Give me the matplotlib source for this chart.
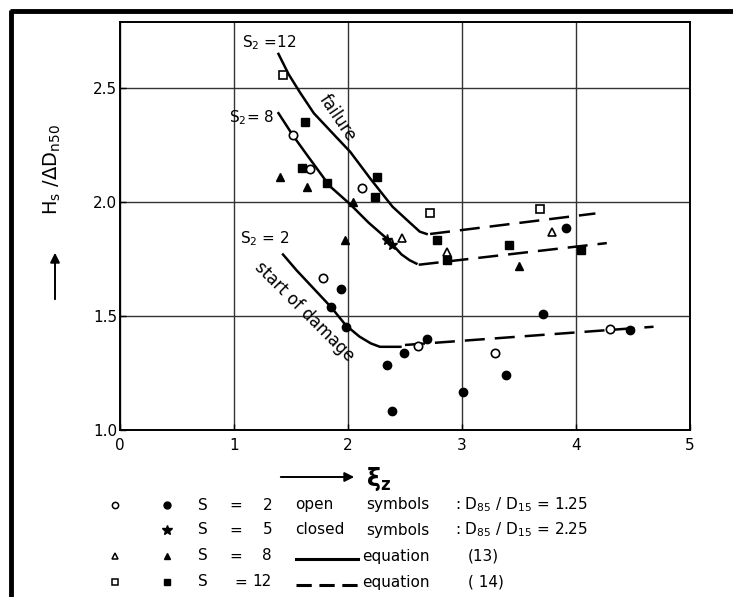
import matplotlib
matplotlib.use("Agg")
import matplotlib.pyplot as plt

plt.rcParams['font.family'] = ['DejaVu Sans']

# ---------------- data ----------------
open_circle_x = [1.78, 1.52, 1.67, 2.12, 2.61, 3.29, 4.30]
open_circle_y = [1.667, 2.294, 2.145, 2.061, 1.368, 1.338, 1.443]
closed_circle_x = [1.94, 1.85, 1.98, 2.49, 2.34, 2.39, 2.69, 3.01, 3.39, 3.71, 3.91, 4.47]
closed_circle_y = [1.618, 1.539, 1.452, 1.338, 1.285, 1.083, 1.399, 1.167, 1.241, 1.509, 1.886, 1.439]
star_x = [2.34, 2.39]
star_y = [1.833, 1.811]
open_tri_x = [2.47, 2.87, 3.79]
open_tri_y = [1.842, 1.781, 1.868]
closed_tri_x = [1.40, 1.64, 2.04, 1.97, 3.50]
closed_tri_y = [2.110, 2.066, 2.000, 1.833, 1.719]
open_sq_x = [1.43, 2.72, 3.68]
open_sq_y = [2.557, 1.952, 1.969]
closed_sq_x = [1.62, 1.60, 1.82, 2.25, 2.24, 2.78, 2.87, 3.41, 4.04]
closed_sq_y = [2.351, 2.149, 2.083, 2.110, 2.022, 1.833, 1.746, 1.811, 1.789]

# equation (13) curves (solid)
eq13_s12_x = [1.39, 1.48, 1.58, 1.70, 1.85, 2.02, 2.20, 2.39, 2.52, 2.63, 2.69]
eq13_s12_y = [2.65, 2.56, 2.48, 2.39, 2.31, 2.22, 2.10, 1.98, 1.92, 1.87, 1.86]
eq13_s8_x = [1.39, 1.52, 1.65, 1.84, 2.02, 2.18, 2.34, 2.47, 2.54, 2.60]
eq13_s8_y = [2.39, 2.29, 2.20, 2.07, 1.99, 1.91, 1.84, 1.77, 1.745, 1.73]
eq13_s2_x = [1.43, 1.55, 1.70, 1.85, 1.98, 2.10, 2.20, 2.28, 2.46]
eq13_s2_y = [1.77, 1.70, 1.62, 1.54, 1.46, 1.41, 1.38, 1.365, 1.365]
# equation (14) curves (dashed)
eq14_s12_x = [2.72, 4.17]
eq14_s12_y = [1.86, 1.95]
eq14_s8_x = [2.62, 4.27]
eq14_s8_y = [1.725, 1.82]
eq14_s2_x = [2.50, 4.68]
eq14_s2_y = [1.373, 1.453]

x_ticks = [0, 1, 2, 3, 4, 5]
y_ticks = [1.0, 1.5, 2.0, 2.5]
y_tick_labels = ['1.0', '1.5', '2.0', '2.5']

W, H = 733, 597
fig = plt.figure(figsize=(W / 100, H / 100), dpi=100)
ax = fig.add_axes([120 / W, 1 - 430 / H, 570 / W, 408 / H])
ax.set_xlim(0, 5)
ax.set_ylim(1.0, 2.79)
ax.set_xticks(x_ticks)
ax.set_yticks(y_ticks)
ax.set_yticklabels(y_tick_labels)
ax.tick_params(direction='in', length=4, width=1, labelsize=11, pad=6)
ax.tick_params(axis='y', pad=2)
ax.grid(True, color='#333333', lw=1.0)
for s in ax.spines.values():
    s.set_linewidth(1.4)

lw = 1.8
ax.plot(eq13_s12_x, eq13_s12_y, color='black', lw=lw)
ax.plot(eq13_s8_x, eq13_s8_y, color='black', lw=lw)
ax.plot(eq13_s2_x, eq13_s2_y, color='black', lw=lw)
for xs, ys in [(eq14_s12_x, eq14_s12_y), (eq14_s8_x, eq14_s8_y), (eq14_s2_x, eq14_s2_y)]:
    ax.plot(xs, ys, color='black', lw=lw, dashes=(8, 4))

ms = 6
ax.plot(open_circle_x, open_circle_y, 'o', mfc='white', mec='black', ms=ms, mew=1.2, ls='none')
ax.plot(closed_circle_x, closed_circle_y, 'o', color='black', ms=ms, ls='none')
ax.plot(star_x, star_y, '*', color='black', ms=8, ls='none')
ax.plot(open_tri_x, open_tri_y, '^', mfc='white', mec='black', ms=ms, mew=1.2, ls='none')
ax.plot(closed_tri_x, closed_tri_y, '^', color='black', ms=ms, ls='none')
ax.plot(open_sq_x, open_sq_y, 's', mfc='white', mec='black', ms=ms, mew=1.2, ls='none')
ax.plot(closed_sq_x, closed_sq_y, 's', color='black', ms=ms, ls='none')

# annotations
ax.text(1.07, 2.70, r'S$_2$ =12', fontsize=11, va='center')
ax.text(0.96, 2.37, r'S$_2$= 8', fontsize=11, va='center')
ax.text(1.05, 1.84, r'S$_2$ = 2', fontsize=11, va='center')
ax.text(1.91, 2.37, 'failure', fontsize=12, rotation=-56, ha='center', va='center',
        rotation_mode='anchor')
ax.text(1.62, 1.52, 'start of damage', fontsize=12, rotation=-45, ha='center', va='center',
        rotation_mode='anchor')

# overlay in pixel coordinates for frame, axis labels and key
ov = fig.add_axes([0, 0, 1, 1], zorder=-1)
ov.set_xlim(0, W)
ov.set_ylim(H, 0)
ov.axis('off')
ov.plot([10, W], [11, 11], color='black', lw=3.5, solid_capstyle='butt')
ov.plot([11, 11], [10, H], color='black', lw=3.5, solid_capstyle='butt')

fig.text(52 / W, 1 - 170 / H, r'H$_\mathsf{s}$ /$\Delta$D$_{\mathsf{n50}}$', rotation=90,
         fontsize=14, ha='center', va='center')
ov.annotate('', xy=(55, 250), xytext=(55, 302),
            arrowprops=dict(arrowstyle='-|>', color='black', lw=1.4, mutation_scale=14))
ov.annotate('', xy=(357, 477), xytext=(278, 477),
            arrowprops=dict(arrowstyle='-|>', color='black', lw=1.4, mutation_scale=14))
fig.text(366 / W, 1 - 479 / H, r'$\mathbf{\xi_z}$', fontsize=17, ha='left', va='center')

rows = [505, 530, 556, 582]
fs = 11
ov.plot([115], [rows[0]], 'o', mfc='white', mec='black', ms=4.5, mew=1.1)
ov.plot([167], [rows[0]], 'o', color='black', ms=5)
ov.plot([167], [rows[1]], '*', color='black', ms=7)
ov.plot([115], [rows[2]], '^', mfc='white', mec='black', ms=5, mew=1.1)
ov.plot([167], [rows[2]], '^', color='black', ms=5)
ov.plot([115], [rows[3]], 's', mfc='white', mec='black', ms=4.5, mew=1.1)
ov.plot([167], [rows[3]], 's', color='black', ms=5)
for r, n in zip(rows, ['2', '5', '8', '12']):
    ov.text(198, r, 'S', fontsize=fs, va='center')
    ov.text(229 if n != '12' else 234, r, '=', fontsize=fs, va='center')
    ov.text(272, r, n, fontsize=fs, va='center', ha='right')
ov.text(295, rows[0], 'open', fontsize=fs, va='center')
ov.text(295, rows[1], 'closed', fontsize=fs, va='center')
ov.text(366, rows[0], 'symbols', fontsize=fs, va='center')
ov.text(366, rows[1], 'symbols', fontsize=fs, va='center')
ov.text(455, rows[0], r': D$_{85}$ / D$_{15}$ = 1.25', fontsize=fs, va='center')
ov.text(455, rows[1], r': D$_{85}$ / D$_{15}$ = 2.25', fontsize=fs, va='center')
ov.plot([296, 358], [rows[2] + 3, rows[2] + 3], color='black', lw=2.2)
ov.plot([296, 358], [rows[3] + 3, rows[3] + 3], color='black', lw=2.2, dashes=(5, 2.5))
ov.text(362, rows[2], 'equation', fontsize=fs, va='center')
ov.text(362, rows[3], 'equation', fontsize=fs, va='center')
ov.text(468, rows[2], '(13)', fontsize=fs, va='center')
ov.text(468, rows[3], '( 14)', fontsize=fs, va='center')

fig.savefig('out.png', dpi=100)
